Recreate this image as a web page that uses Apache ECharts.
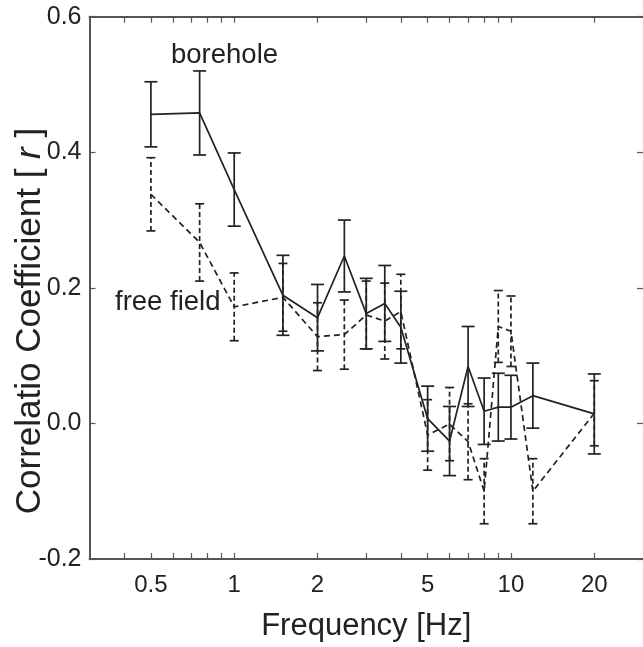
<!DOCTYPE html>
<html>
<head>
<meta charset="utf-8">
<script src="https://cdn.jsdelivr.net/npm/echarts@6/dist/echarts.min.js"></script>
<style>
html,body{margin:0;padding:0;background:#fff;}
#chart{width:643px;height:647px;}
</style>
</head>
<body>
<div id="chart"></div>
<script>
const freqs = [0.5, 0.75, 1, 1.5, 2, 2.5, 3, 3.5, 4, 5, 6, 7, 8, 9, 10, 12, 20];
const borehole = [0.456, 0.458, 0.345, 0.189, 0.156, 0.247, 0.162, 0.177, 0.142, 0.007, -0.026, 0.084, 0.018, 0.024, 0.024, 0.041, 0.014];
const boreholeErr = [0.048, 0.062, 0.054, 0.059, 0.049, 0.053, 0.052, 0.056, 0.053, 0.048, 0.051, 0.059, 0.049, 0.05, 0.047, 0.048, 0.059];
const freeField = [0.338, 0.267, 0.172, 0.186, 0.128, 0.131, 0.160, 0.151, 0.165, -0.017, -0.001, -0.027, -0.1, 0.143, 0.136, -0.1, 0.015];
const freeFieldErr = [0.054, 0.057, 0.05, 0.05, 0.05, 0.051, 0.05, 0.056, 0.055, 0.052, 0.054, 0.056, 0.048, 0.053, 0.052, 0.048, 0.048];
const xTickLabels = [0.5, 1, 2, 5, 10, 20];
const xTicks = [0.4, 0.5, 0.6, 0.7, 0.8, 0.9, 1, 2, 3, 4, 5, 6, 7, 8, 9, 10, 20];

const FONT = 'Liberation Sans, Arial, Helvetica, sans-serif';
const INK = '#222';
const AXIS = '#555';

const chart = echarts.init(document.getElementById('chart'), null, {renderer: 'canvas'});

function errData(vals, errs) {
  return freqs.map((f, i) => [f, vals[i] - errs[i], vals[i] + errs[i]]);
}
function errRender(halfCap, dashed) {
  return function (params, api) {
    const lo = api.coord([api.value(0), api.value(1)]);
    const hi = api.coord([api.value(0), api.value(2)]);
    const style = {stroke: INK, lineWidth: 1.7, lineDash: dashed ? [5, 3] : null, fill: null};
    const cap = Object.assign({}, style, {lineDash: null});
    return {
      type: 'group',
      children: [
        {type: 'line', shape: {x1: lo[0], y1: lo[1], x2: hi[0], y2: hi[1]}, style: style},
        {type: 'line', shape: {x1: lo[0] - halfCap, y1: lo[1], x2: lo[0] + halfCap, y2: lo[1]}, style: cap},
        {type: 'line', shape: {x1: hi[0] - halfCap, y1: hi[1], x2: hi[0] + halfCap, y2: hi[1]}, style: cap}
      ]
    };
  };
}

const xCommon = {
  type: 'log', logBase: 10, min: 0.3, max: 30,
  axisLine: {show: true, onZero: false, lineStyle: {color: AXIS, width: 2}},
  axisTick: {show: true, inside: true, length: 6, customValues: xTicks, lineStyle: {color: AXIS, width: 1.2}},
  splitLine: {show: false}, minorTick: {show: false}
};
const yCommon = {
  type: 'value', min: -0.2, max: 0.6, interval: 0.2,
  axisLine: {show: true, onZero: false, lineStyle: {color: AXIS, width: 2}},
  axisTick: {show: true, inside: true, length: 6, lineStyle: {color: AXIS, width: 1.2}},
  splitLine: {show: false}
};

chart.setOption({
  animation: false,
  backgroundColor: '#fff',
  grid: {left: 89.5, top: 16.7, width: 556, height: 557.3, containLabel: false},
  xAxis: [
    Object.assign({}, xCommon, {
      position: 'bottom',
      name: 'Frequency [Hz]', nameLocation: 'middle', nameGap: 52,
      nameTextStyle: {fontFamily: FONT, fontSize: 31, color: INK},
      axisLabel: {show: true, customValues: xTickLabels, fontFamily: FONT, fontSize: 24, color: INK, margin: 14,
        formatter: v => String(v)}
    }),
    Object.assign({}, xCommon, {position: 'top', axisLabel: {show: false}})
  ],
  yAxis: [
    Object.assign({}, yCommon, {
      position: 'left',
      axisLabel: {show: true, fontFamily: FONT, fontSize: 25, color: INK, margin: 8,
        formatter: v => v.toFixed(1)}
    }),
    Object.assign({}, yCommon, {position: 'right', axisLine: {show: false}, axisLabel: {show: false}})
  ],
  series: [
    {type: 'line', name: 'borehole', xAxisIndex: 0, yAxisIndex: 0, symbol: 'none',
      data: freqs.map((f, i) => [f, borehole[i]]),
      lineStyle: {color: INK, width: 1.7}, z: 3},
    {type: 'line', name: 'free field', xAxisIndex: 0, yAxisIndex: 0, symbol: 'none',
      data: freqs.map((f, i) => [f, freeField[i]]),
      lineStyle: {color: INK, width: 1.7, type: [6, 4]}, z: 3},
    {type: 'custom', xAxisIndex: 0, yAxisIndex: 0, renderItem: errRender(6.5, false),
      data: errData(borehole, boreholeErr), z: 4},
    {type: 'custom', xAxisIndex: 0, yAxisIndex: 0, renderItem: errRender(4.5, true),
      data: errData(freeField, freeFieldErr), z: 4}
  ],
  graphic: [
    {type: 'text', x: 30, y: 321, rotation: Math.PI / 2,
      style: {text: '{n|Correlatio Coefficient [ }{i|r}{n| ]}', align: 'center', verticalAlign: 'middle',
        rich: {
          n: {fontFamily: FONT, fontSize: 35, fill: INK},
          i: {fontFamily: FONT, fontSize: 35, fontStyle: 'italic', fill: INK}
        }}},
    {type: 'text', left: 171, top: 41, style: {text: 'borehole', fontFamily: FONT, fontSize: 27.5, fill: INK}},
    {type: 'text', left: 115, top: 288, style: {text: 'free field', fontFamily: FONT, fontSize: 27.5, fill: INK}}
  ]
});
</script>
</body>
</html>
